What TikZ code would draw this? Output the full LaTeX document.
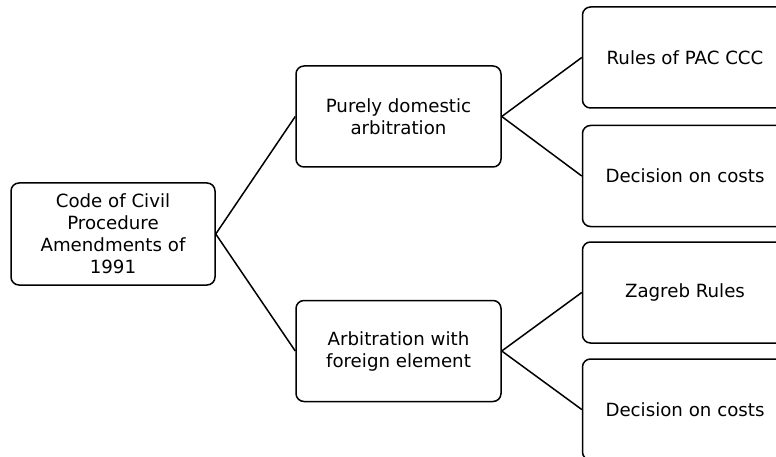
\documentclass[tikz,border=0pt]{standalone}
\usepackage{fontspec}
\setmainfont{DejaVu Sans}
\begin{document}
\begin{tikzpicture}[x=1pt,y=-1pt,
  box/.style={draw=black, line width=1.5pt, fill=white, rounded corners=8pt,
    minimum width=205pt, minimum height=101pt, align=center, inner sep=2pt,
    font=\fontsize{18.2}{22}\selectfont},
  link/.style={draw=black, line width=1.5pt}]
  \useasboundingbox (0,0) rectangle (776,457);
  \clip (0,0) rectangle (776,457);

  % root of the tree
  \node[box, minimum width=204pt, minimum height=102pt] (code) at (113,234)
    {Code of Civil\\Procedure\\Amendments of\\1991};

  % second level
  \node[box] (dom) at (398.5,116.5) {Purely domestic\\arbitration};
  \node[box] (for) at (398.5,351) {Arbitration with\\foreign element};

  % leaves
  \node[box] (pac)   at (685,57.5)  {Rules of PAC CCC};
  \node[box] (cost1) at (685,176)   {Decision on costs};
  \node[box] (zag)   at (685,292.5) {Zagreb Rules};
  \node[box] (cost2) at (685,409.5) {Decision on costs};

  % connectors
  \draw[link] (code.east) -- (dom.west);
  \draw[link] (code.east) -- (for.west);
  \draw[link] (dom.east) -- (pac.west);
  \draw[link] (dom.east) -- (cost1.west);
  \draw[link] (for.east) -- (zag.west);
  \draw[link] (for.east) -- (cost2.west);
\end{tikzpicture}
\end{document}
